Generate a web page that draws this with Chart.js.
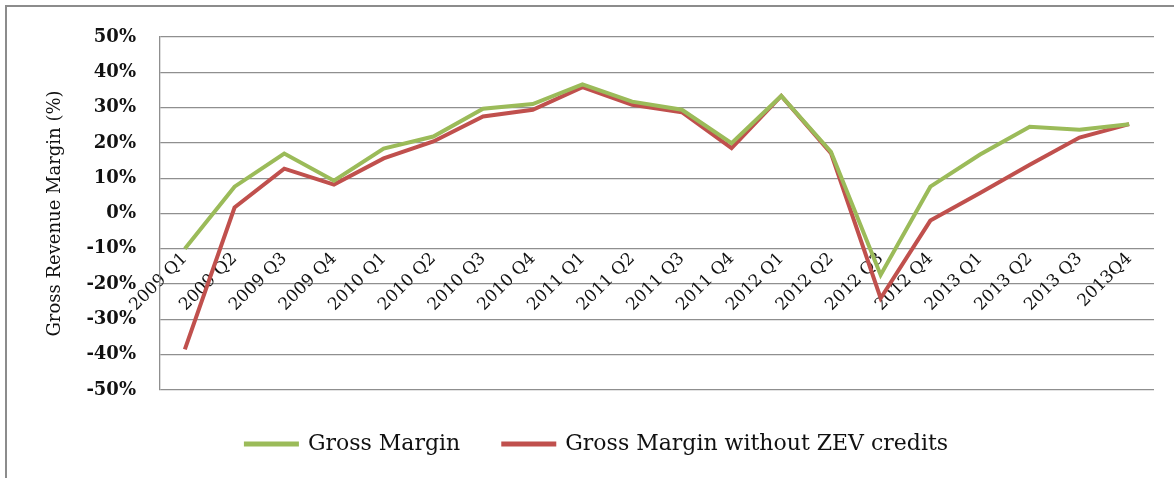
<!DOCTYPE html>
<html>
<head>
<meta charset="utf-8">
<script src="https://cdn.jsdelivr.net/npm/chart.js@4.4.0/dist/chart.umd.min.js"></script>
<style>
html,body{margin:0;padding:0;background:#fff;overflow:hidden;}
#frame{position:absolute;left:5px;top:5px;width:1200px;height:500px;border:2px solid #8c8c8c;}
#wrap{position:absolute;left:0;top:0;width:1174px;height:478px;}
</style>
</head>
<body>
<div id="frame"></div>
<div id="wrap"><canvas id="margin"></canvas></div>
<script>
const quarters=['2009 Q1','2009 Q2','2009 Q3','2009 Q4','2010 Q1','2010 Q2','2010 Q3','2010 Q4',
  '2011 Q1','2011 Q2','2011 Q3','2011 Q4','2012 Q1','2012 Q2','2012 Q3','2012 Q4',
  '2013 Q1','2013 Q2','2013 Q3','2013Q4'];
const grossMargin=[-10,7.6,17,9.3,18.4,21.8,29.7,31,36.6,31.7,29.4,19.9,33.3,17.5,-17.4,7.6,16.7,24.6,23.7,25.3];
const marginNoZev=[-38.5,1.7,12.7,8.2,15.6,20.4,27.5,29.4,35.8,30.8,28.7,18.5,33.3,17.1,-24,-2,5.8,13.8,21.5,25.3];
const seriesNames=['Gross Margin','Gross Margin without ZEV credits'];
const axisTitle='Gross Revenue Margin (%)';

const serif="'DejaVu Serif', serif";
const gridGray='#8f8f8f';

new Chart(document.getElementById('margin'), {
  type: 'line',
  data: {
    labels: quarters,
    datasets: [{
      label: seriesNames[0],
      data: grossMargin,
      borderColor: '#9bbb59',
      backgroundColor: '#9bbb59',
      borderWidth: 4,
      pointRadius: 0,
      tension: 0
    },
    {
      label: seriesNames[1],
      data: marginNoZev,
      borderColor: '#c0504d',
      backgroundColor: '#c0504d',
      borderWidth: 4,
      pointRadius: 0,
      tension: 0
    }]
  },
  options: {
    responsive: true,
    maintainAspectRatio: false,
    animation: false,
    layout: {
      padding: {left: 40, right: 20, top: 37, bottom: 13}
    },
    plugins: {
      tooltip: {enabled: false},
      legend: {
        position: 'bottom',
        labels: {
          boxWidth: 51,
          boxHeight: 1,
          padding: 43,
          color: '#111',
          font: {family: serif, size: 22}
        }
      }
    },
    scales: {
      x: {
        position: {y: -10},
        offset: true,
        grid: {display: false, drawTicks: false},
        border: {display: false},
        ticks: {
          autoSkip: false,
          minRotation: 45,
          maxRotation: 45,
          padding: 0,
          color: '#111',
          font: {family: serif, size: 17}
        },
        afterFit: function(scale){ scale.paddingLeft=0; scale.paddingRight=0; }
      },
      y: {
        min: -50,
        max: 50,
        grid: {color: gridGray, lineWidth: 1.3, drawTicks: false},
        border: {display: true, color: gridGray, width: 1.3},
        ticks: {
          stepSize: 10,
          padding: 24,
          color: '#111',
          font: {family: serif, size: 18, weight: 'bold'},
          callback: function(v){ return v+'%'; }
        },
        title: {
          display: true,
          text: axisTitle,
          color: '#111',
          padding: {top: 5, bottom: 5},
          font: {family: serif, size: 18}
        },
        afterFit: function(scale){ scale.width=120; }
      }
    }
  }
});
</script>
</body>
</html>
